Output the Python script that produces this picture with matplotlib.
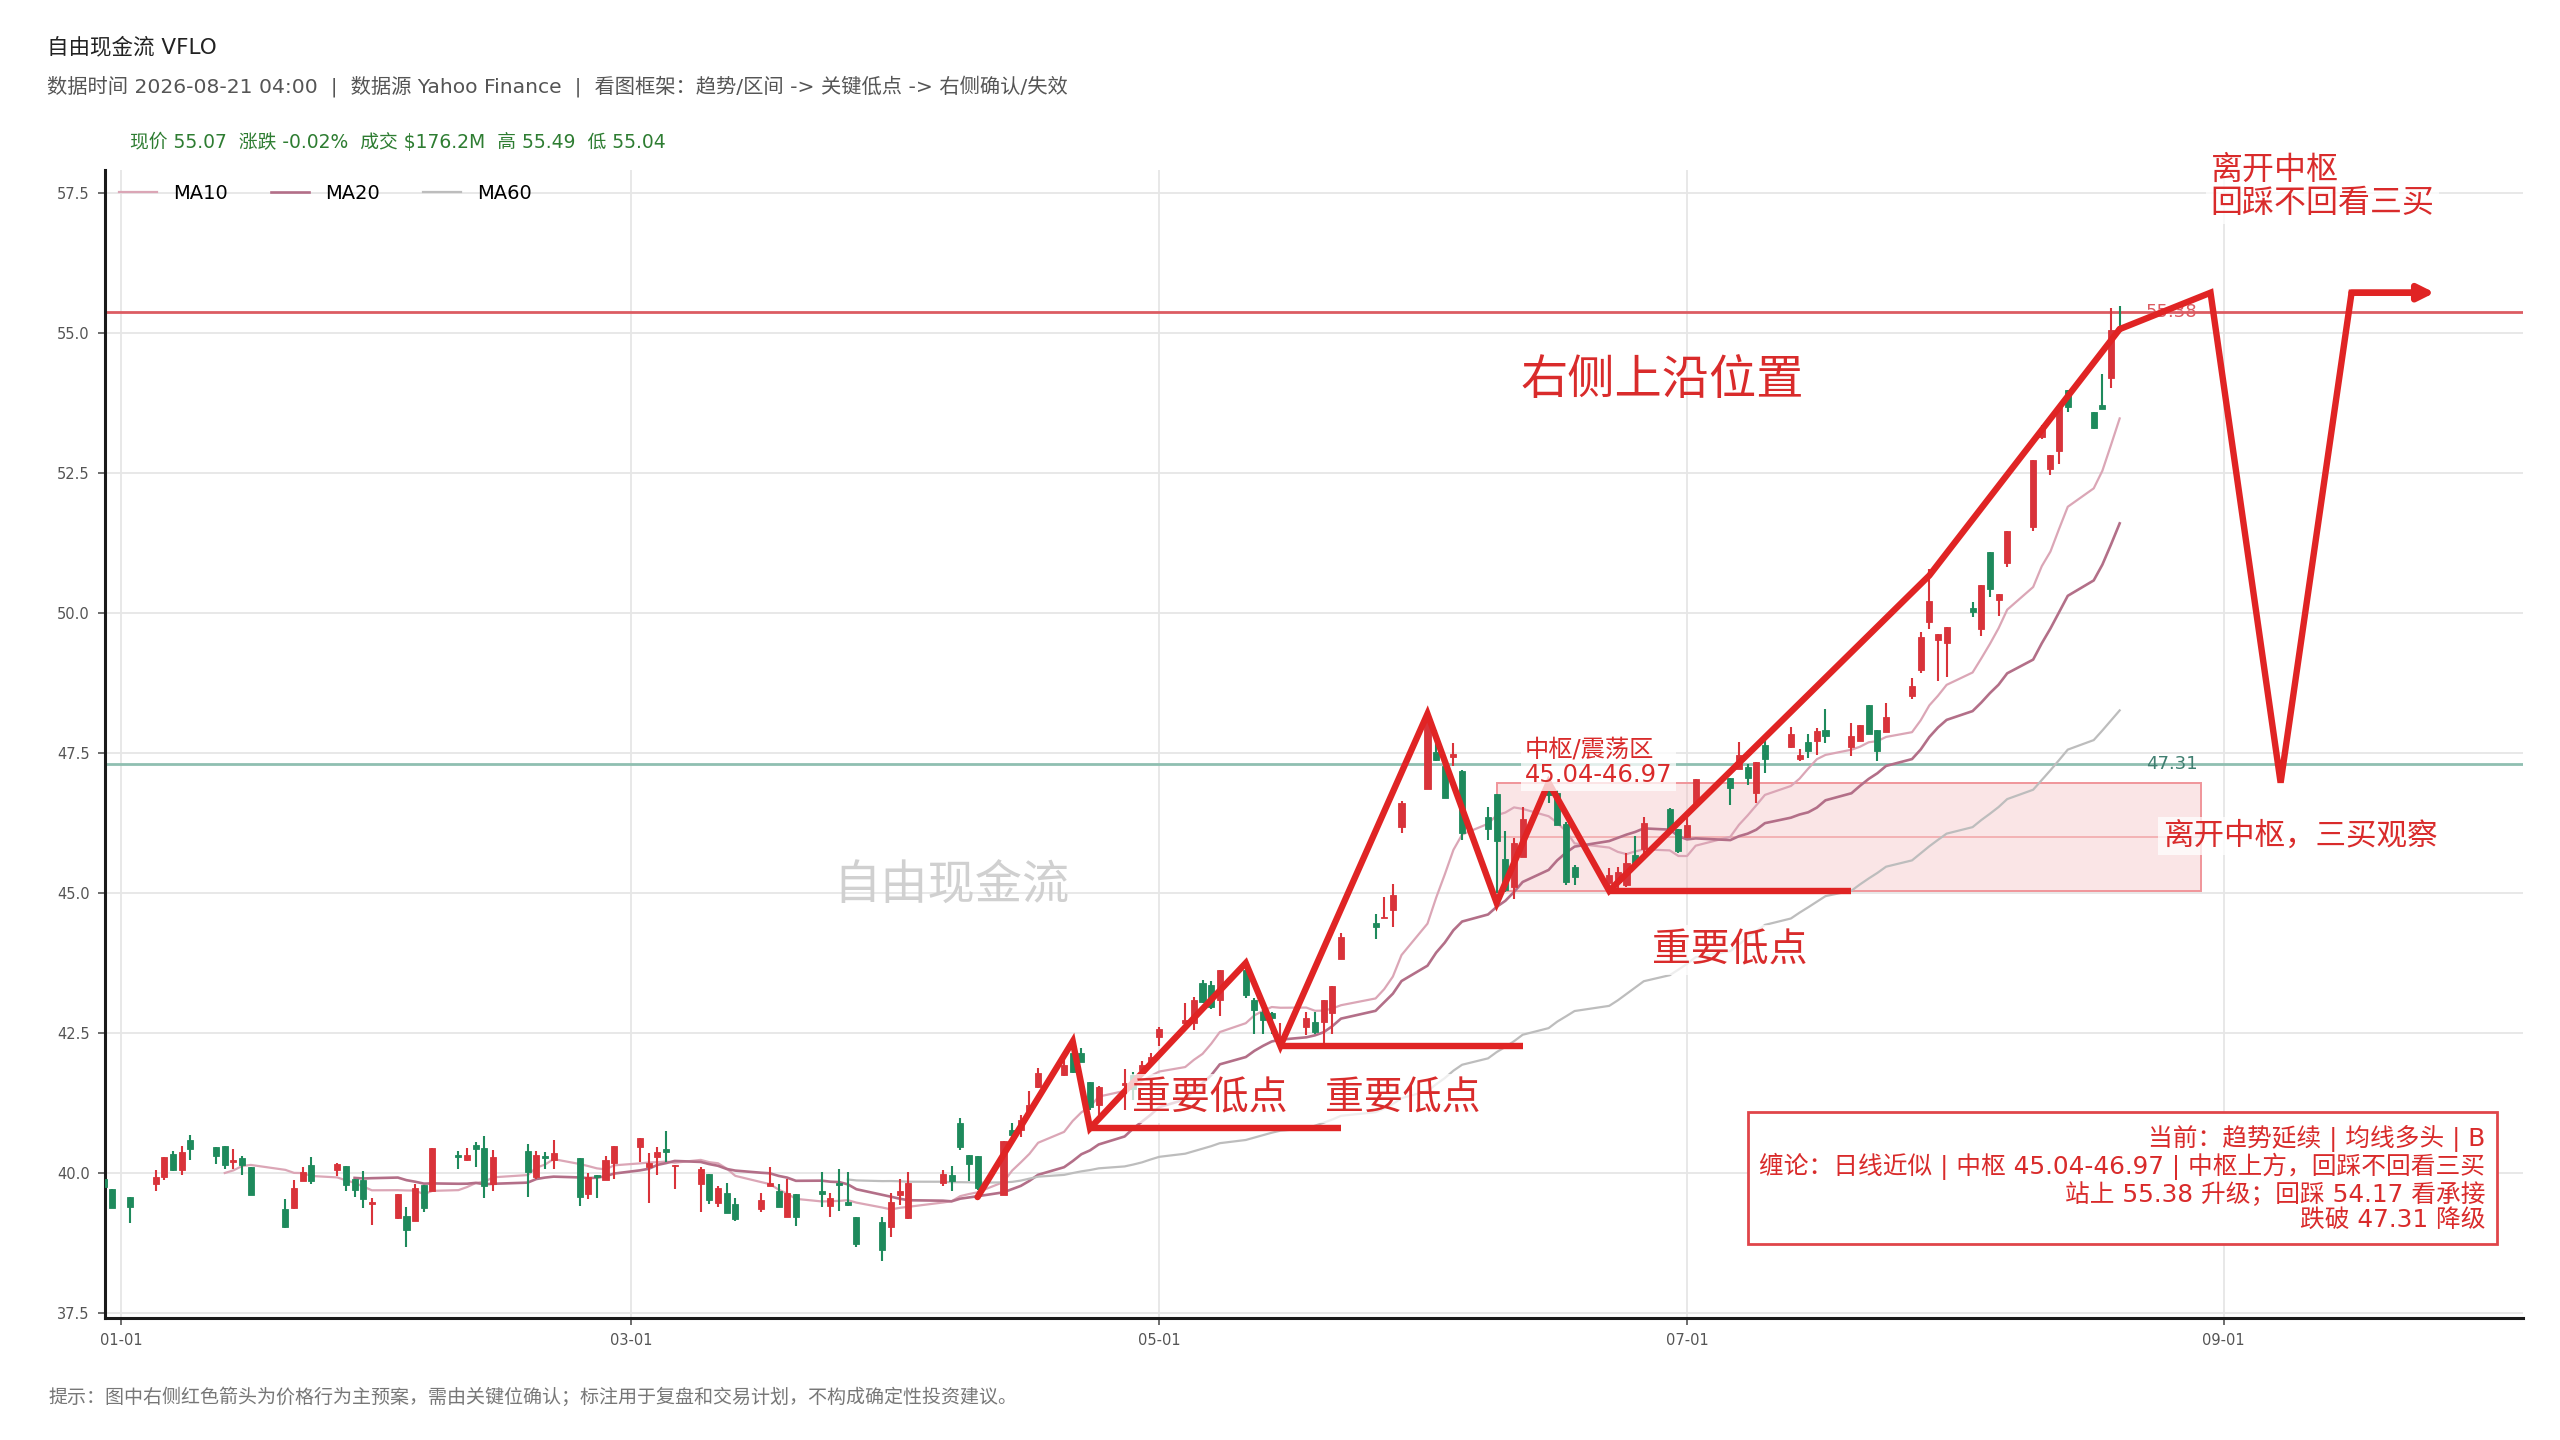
import matplotlib
matplotlib.use('Agg')
import matplotlib.pyplot as plt
import matplotlib.dates as mdates
from matplotlib.patches import Rectangle
import pandas as pd

plt.rcParams['font.family'] = ['DejaVu Sans', 'Noto Sans CJK SC']

BASE = pd.Timestamp('2026-01-01')

# trading days, as day offsets from 2026-01-01 (one line per week)
DAY = [-2, -1, 1,
       4, 5, 6, 7, 8,
       11, 12, 13, 14, 15,
       19, 20, 21, 22,
       25, 26, 27, 28, 29,
       32, 33, 34, 35, 36,
       39, 40, 41, 42, 43,
       47, 48, 49, 50,
       53, 54, 55, 56, 57,
       60, 61, 62, 63, 64,
       67, 68, 69, 70, 71,
       74, 75, 76, 77, 78,
       81, 82, 83, 84, 85,
       88, 89, 90, 91,
       95, 96, 97, 98, 99,
       102, 103, 104, 105, 106,
       109, 110, 111, 112, 113,
       116, 117, 118, 119, 120,
       123, 124, 125, 126, 127,
       130, 131, 132, 133, 134,
       137, 138, 139, 140, 141,
       145, 146, 147, 148,
       151, 152, 153, 154, 155,
       158, 159, 160, 161, 162,
       165, 166, 167, 168,
       172, 173, 174, 175, 176,
       179, 180, 181, 182,
       186, 187, 188, 189, 190,
       193, 194, 195, 196, 197,
       200, 201, 202, 203, 204,
       207, 208, 209, 210, 211,
       214, 215, 216, 217, 218,
       221, 222, 223, 224, 225,
       228, 229, 230, 231]

OPEN = [39.90, 39.71, 39.57,
        39.80, 39.92, 40.34, 40.05, 40.59,
        40.46, 40.48, 40.20, 40.26, 40.10,
        39.35, 39.38, 39.86, 40.14,
        40.05, 40.13, 39.90, 39.87, 39.45,
        39.20, 39.24, 39.15, 39.79, 39.67,
        40.33, 40.23, 40.50, 40.44, 39.80,
        40.40, 39.92, 40.30, 40.24,
        40.27, 39.63, 39.96, 39.88, 40.17,
        40.46, 40.11, 40.28, 40.43, 40.12,
        39.80, 39.98, 39.46, 39.64, 39.44,
        39.35, 39.77, 39.67, 39.21, 39.62,
        39.68, 39.41, 39.82, 39.49, 39.22,
        39.13, 39.04, 39.61, 39.19,
        39.83, 39.96, 40.89, 40.33, 40.31,
        39.61, 40.77, 40.77, 41.10, 41.54,
        41.75, 42.14, 42.15, 41.63, 41.21,
        41.57, 41.75, 41.84, 41.98, 42.43,
        42.67, 42.67, 43.39, 43.36, 43.09,
        43.63, 43.09, 42.88, 42.85, 42.35,
        42.61, 42.70, 42.70, 42.85, 43.82,
        44.47, 44.55, 44.70, 46.17,
        46.85, 47.52, 47.26, 47.43, 47.17,
        46.35, 46.77, 45.60, 45.11, 45.65,
        46.87, 46.78, 46.24, 45.47,
        45.17, 45.20, 45.14, 45.68, 45.78,
        46.50, 46.14, 46.00, 46.61,
        47.05, 47.21, 47.25, 46.79, 47.64,
        47.61, 47.39, 47.69, 47.71, 47.91,
        47.61, 47.71, 48.36, 47.91, 47.88,
        48.52, 48.98, 49.84, 49.51, 49.46,
        50.09, 49.71, 51.09, 50.24, 50.89,
        51.54, 53.15, 52.57, 52.89, 53.98,
        53.59, 53.71, 54.19, 55.08]

HIGH = [39.95, 39.71, 39.57,
        40.05, 40.28, 40.39, 40.48, 40.68,
        40.46, 40.48, 40.42, 40.31, 40.10,
        39.53, 39.88, 40.11, 40.28,
        40.18, 40.13, 39.90, 40.04, 39.55,
        39.62, 39.40, 39.80, 39.79, 40.44,
        40.40, 40.44, 40.56, 40.66, 40.41,
        40.52, 40.39, 40.38, 40.59,
        40.27, 40.00, 39.96, 40.30, 40.49,
        40.63, 40.35, 40.47, 40.75, 40.15,
        40.11, 39.98, 39.77, 39.82, 39.55,
        39.64, 40.11, 39.80, 39.89, 39.62,
        40.02, 39.64, 40.07, 40.01, 39.22,
        39.22, 39.65, 39.90, 40.02,
        40.06, 40.12, 40.99, 40.33, 40.31,
        40.58, 40.89, 41.04, 41.47, 41.87,
        42.08, 42.23, 42.24, 41.63, 41.55,
        41.85, 41.80, 42.00, 42.14, 42.61,
        43.03, 43.15, 43.45, 43.42, 43.63,
        43.69, 43.12, 42.94, 42.88, 42.67,
        42.88, 42.88, 43.09, 43.34, 44.28,
        44.63, 44.93, 45.16, 46.65,
        48.20, 47.91, 47.26, 47.68, 47.20,
        46.53, 46.77, 46.11, 45.98, 46.54,
        47.02, 46.84, 46.27, 45.50,
        45.44, 45.47, 45.71, 46.01, 46.36,
        46.52, 46.14, 46.36, 47.04,
        47.05, 47.69, 47.31, 47.34, 47.79,
        47.96, 47.57, 47.84, 47.94, 48.28,
        48.04, 48.00, 48.36, 47.91, 48.39,
        48.84, 49.66, 50.79, 49.62, 49.75,
        50.19, 50.50, 51.09, 50.34, 51.46,
        52.74, 53.35, 52.82, 53.68, 53.98,
        53.59, 54.26, 55.44, 55.49]

LOW = [39.70, 39.37, 39.10,
       39.67, 39.88, 40.04, 39.97, 40.24,
       40.16, 40.07, 40.07, 39.96, 39.60,
       39.01, 39.35, 39.85, 39.80,
       39.95, 39.67, 39.57, 39.37, 39.07,
       39.17, 38.67, 39.15, 39.31, 39.67,
       40.08, 40.22, 40.11, 39.55, 39.67,
       39.57, 39.90, 40.08, 40.08,
       39.41, 39.53, 39.55, 39.88, 39.90,
       40.20, 39.46, 39.96, 40.20, 39.71,
       39.31, 39.45, 39.39, 39.29, 39.15,
       39.31, 39.76, 39.40, 39.21, 39.06,
       39.40, 39.21, 39.33, 39.41, 38.67,
       38.42, 38.85, 39.43, 39.17,
       39.76, 39.67, 40.41, 39.85, 39.70,
       39.61, 40.65, 40.65, 41.04, 41.51,
       41.73, 41.78, 41.98, 41.13, 41.01,
       41.13, 41.30, 41.80, 41.96, 42.26,
       42.55, 42.55, 43.03, 42.92, 42.80,
       43.12, 42.49, 42.49, 42.49, 42.26,
       42.47, 42.49, 42.32, 42.49, 43.82,
       44.17, 44.55, 44.39, 46.08,
       46.85, 47.35, 46.69, 47.26, 45.95,
       45.95, 45.00, 45.02, 44.90, 45.65,
       46.60, 46.21, 45.14, 45.14,
       45.05, 45.05, 45.11, 45.47, 45.59,
       46.10, 45.71, 45.98, 46.61,
       46.58, 47.21, 46.92, 46.61, 47.14,
       47.59, 47.36, 47.41, 47.46, 47.68,
       47.44, 47.71, 47.84, 47.36, 47.88,
       48.46, 48.93, 49.71, 48.79, 48.86,
       49.92, 49.59, 50.29, 49.94, 50.83,
       51.46, 53.10, 52.46, 52.66, 53.59,
       53.29, 53.64, 54.02, 55.04]

CLOSE = [39.75, 39.37, 39.40,
         39.92, 40.28, 40.05, 40.37, 40.42,
         40.30, 40.14, 40.22, 40.14, 39.60,
         39.04, 39.74, 40.02, 39.85,
         40.16, 39.78, 39.70, 39.54, 39.48,
         39.62, 38.99, 39.73, 39.37, 40.44,
         40.29, 40.33, 40.42, 39.76, 40.28,
         40.02, 40.32, 40.26, 40.36,
         39.57, 39.92, 39.92, 40.23, 40.49,
         40.63, 40.17, 40.38, 40.37, 40.15,
         40.08, 39.51, 39.73, 39.29, 39.18,
         39.51, 39.82, 39.40, 39.64, 39.22,
         39.62, 39.55, 39.79, 39.42, 38.74,
         38.63, 39.49, 39.68, 39.82,
         39.99, 39.85, 40.46, 40.16, 39.73,
         40.58, 40.68, 40.95, 41.21, 41.79,
         41.93, 41.81, 41.99, 41.17, 41.53,
         41.60, 41.50, 41.93, 42.08, 42.58,
         42.73, 43.09, 43.06, 42.97, 43.63,
         43.18, 42.91, 42.73, 42.76, 42.45,
         42.76, 42.52, 43.09, 43.34, 44.22,
         44.39, 44.58, 44.97, 46.60,
         48.06, 47.38, 46.69, 47.48, 46.07,
         46.15, 45.92, 45.05, 45.89, 46.33,
         46.75, 46.21, 45.20, 45.29,
         45.32, 45.38, 45.53, 45.53, 46.25,
         46.15, 45.75, 46.21, 47.04,
         46.88, 47.46, 47.05, 47.34, 47.39,
         47.84, 47.46, 47.54, 47.89, 47.81,
         47.81, 48.00, 47.84, 47.54, 48.14,
         48.69, 49.57, 50.21, 49.62, 49.75,
         50.02, 50.50, 50.43, 50.34, 51.46,
         52.74, 53.30, 52.82, 53.68, 53.68,
         53.31, 53.64, 55.05, 55.07]

MA_WINDOWS = [10, 20, 60]
MA_COLORS = ['#dba6b6', '#b36f88', '#bdbdbd']
MA_WIDTHS = [1.6, 1.9, 1.6]

# hand-drawn swing path (historical) and projected path
ZZ_DAY = [99, 110, 112, 130, 134, 151, 159, 165, 172, 209, 231]
ZZ_PRICE = [39.57, 42.35, 40.80, 43.75, 42.27, 48.20, 44.82, 46.97, 45.04, 50.67, 55.07]
PLAN_DAY = [231, 241.5, 249.6, 257.8, 267.4]
PLAN_PRICE = [55.07, 55.72, 46.97, 55.72, 55.72]

# key lows (horizontal segments)
KEY_LOW_START = [112, 134, 172]
KEY_LOW_END = [141, 162, 200]
KEY_LOW_PRICE = [40.80, 42.26, 45.04]

ZONE_LOW, ZONE_HIGH = 45.04, 46.97
ZONE_START, ZONE_END = 159, 240.4
UPGRADE_LEVEL = 55.38
DOWNGRADE_LEVEL = 47.31

Y_TICKS = [37.5, 40.0, 42.5, 45.0, 47.5, 50.0, 52.5, 55.0, 57.5]

RED = '#e02424'
TXT_RED = '#d92b2b'
UP = '#d9333a'
DOWN = '#1e8a5c'


def xd(d):
    return mdates.date2num(BASE) + d


fig = plt.figure(figsize=(25.6, 14.4), dpi=100)
ax = fig.add_axes([0.041, 0.0847, 0.9445, 0.7972])

x = [xd(d) for d in DAY]

# zone
ax.add_patch(Rectangle((xd(ZONE_START), ZONE_LOW), ZONE_END - ZONE_START, ZONE_HIGH - ZONE_LOW,
                       facecolor='#f3b6ba', alpha=0.35, edgecolor='none', zorder=1))
ax.add_patch(Rectangle((xd(ZONE_START), ZONE_LOW), ZONE_END - ZONE_START, ZONE_HIGH - ZONE_LOW,
                       facecolor='none', edgecolor='#f0959a', lw=1.4, zorder=1.1))
ax.plot([xd(ZONE_START), xd(ZONE_END)], [(ZONE_LOW + ZONE_HIGH) / 2] * 2,
        color='#f2a9ac', lw=1.2, zorder=1.1)

# reference levels
ax.axhline(UPGRADE_LEVEL, color='#dc5c62', lw=2.0, zorder=2)
ax.axhline(DOWNGRADE_LEVEL, color='#8fbfb1', lw=2.0, zorder=2)

# moving averages
close_s = pd.Series(CLOSE)
for win, col, lw in zip(MA_WINDOWS, MA_COLORS, MA_WIDTHS):
    ax.plot(x, close_s.rolling(win).mean(), color=col, lw=lw, zorder=3, label=f'MA{win}')

# candles
for xi, o, h, l, c in zip(x, OPEN, HIGH, LOW, CLOSE):
    col = UP if c >= o else DOWN
    ax.vlines(xi, l, h, color=col, lw=1.5, zorder=4)
    body = max(abs(c - o), 0.03)
    ax.bar(xi, body, bottom=min(o, c), width=0.7, color=col, edgecolor=col, lw=0.6, zorder=4.5)

# swing path + key lows
ax.plot([xd(d) for d in ZZ_DAY], ZZ_PRICE, color=RED, lw=4.6, zorder=6,
        solid_joinstyle='miter', solid_capstyle='round')
for s, e, p in zip(KEY_LOW_START, KEY_LOW_END, KEY_LOW_PRICE):
    ax.plot([xd(s), xd(e)], [p, p], color=RED, lw=4.6, zorder=6, solid_capstyle='butt')

# projected path with arrow head
px = [xd(d) for d in PLAN_DAY]
ax.plot(px[:-1] + [px[-1] - 2.0], PLAN_PRICE, color=RED, lw=4.6, zorder=6,
        solid_joinstyle='miter', solid_capstyle='round')
ax.annotate('', xy=(px[-1], PLAN_PRICE[-1]), xytext=(px[-2], PLAN_PRICE[-2]),
            arrowprops=dict(arrowstyle='-|>', color=RED, lw=4.6, mutation_scale=24,
                            shrinkA=0, shrinkB=0), zorder=6)

# level labels
ax.text(xd(234), UPGRADE_LEVEL, f'{UPGRADE_LEVEL:.2f}', color='#dc5c62', fontsize=13,
        va='center', ha='left', zorder=5)
ax.text(xd(234), DOWNGRADE_LEVEL, f'{DOWNGRADE_LEVEL:.2f}', color='#3f7f70', fontsize=13,
        va='center', ha='left', zorder=5)

# annotations
lbl_box = dict(boxstyle='square,pad=0.15', facecolor='white', edgecolor='none', alpha=0.75)
ax.text(xd(96), 45.1, '自由现金流', fontsize=34, color='#d0d0d0', ha='center', va='center', zorder=2)
ax.text(xd(161.7), 54.14, '右侧上沿位置', fontsize=34, color=TXT_RED, ha='left', va='center', zorder=8)
for d, p in [(116.9, 41.33), (139.1, 41.33), (176.9, 43.98)]:
    ax.text(xd(d), p, '重要低点', fontsize=28, color=TXT_RED, ha='left', va='center',
            bbox=lbl_box, zorder=8)
ax.text(xd(162.2), 47.34, f'中枢/震荡区\n{ZONE_LOW:.2f}-{ZONE_HIGH:.2f}', fontsize=17.5,
        color=TXT_RED, ha='left', va='center', linespacing=1.1, bbox=lbl_box, zorder=8)
ax.text(xd(241.5), 57.61, '离开中枢\n回踩不回看三买', fontsize=23, color=TXT_RED,
        ha='left', va='center', linespacing=1.1, bbox=lbl_box, zorder=8, clip_on=False)
ax.text(xd(236.0), 46.02, '离开中枢，三买观察', fontsize=22, color=TXT_RED,
        ha='left', va='center', bbox=lbl_box, zorder=8)

ax.text(0.9845, 0.075,
        '当前：趋势延续 | 均线多头 | B\n'
        f'缠论：日线近似 | 中枢 {ZONE_LOW:.2f}-{ZONE_HIGH:.2f} | 中枢上方，回踩不回看三买\n'
        f'站上 {UPGRADE_LEVEL:.2f} 升级；回踩 54.17 看承接\n'
        f'跌破 {DOWNGRADE_LEVEL:.2f} 降级',
        transform=ax.transAxes, ha='right', va='bottom', multialignment='right',
        fontsize=17.8, color=TXT_RED, linespacing=1.07, zorder=9,
        bbox=dict(boxstyle='square,pad=0.48', facecolor='white', edgecolor='#e0454a', lw=2))

# axes styling
ax.set_xlim(xd(-1.85), xd(277.6))
ax.set_ylim(37.41, 57.91)
ax.set_yticks(Y_TICKS)
ax.yaxis.set_major_formatter(matplotlib.ticker.FormatStrFormatter('%.1f'))
ax.xaxis.set_major_locator(mdates.MonthLocator(bymonth=[1, 3, 5, 7, 9]))
ax.xaxis.set_major_formatter(mdates.DateFormatter('%m-%d'))
ax.grid(True, color='#e6e6e6', lw=1.3)
ax.set_axisbelow(True)
for side in ['top', 'right']:
    ax.spines[side].set_visible(False)
for side in ['left', 'bottom']:
    ax.spines[side].set_color('#1a1a1a')
    ax.spines[side].set_linewidth(2.2)
ax.tick_params(axis='both', labelsize=10.5, labelcolor='#555555', color='#555555',
               length=5, width=1.2, pad=6)

ax.legend(loc='upper left', bbox_to_anchor=(0.0, 1.0), ncol=3, frameon=False, fontsize=14,
          handlelength=2.0, handletextpad=0.8, columnspacing=2.2, borderaxespad=0.3)

# header / footer
fig.text(0.0184, 0.9674, '自由现金流 VFLO', fontsize=15.5, color='#222222', va='center')
fig.text(0.0184, 0.9403,
         '数据时间 2026-08-21 04:00  |  数据源 Yahoo Finance  |  看图框架：趋势/区间 -> 关键低点 -> 右侧确认/失效',
         fontsize=14.6, color='#555555', va='center')
fig.text(0.0508, 0.9014, r'现价 55.07  涨跌 -0.02%  成交 \$176.2M  高 55.49  低 55.04',
         fontsize=13.5, color='#2e7d32', va='center')
fig.text(0.0188, 0.0299,
         '提示：图中右侧红色箭头为价格行为主预案，需由关键位确认；标注用于复盘和交易计划，不构成确定性投资建议。',
         fontsize=13.7, color='#777777', va='center')

fig.savefig('out.png', dpi=100, facecolor='white')
